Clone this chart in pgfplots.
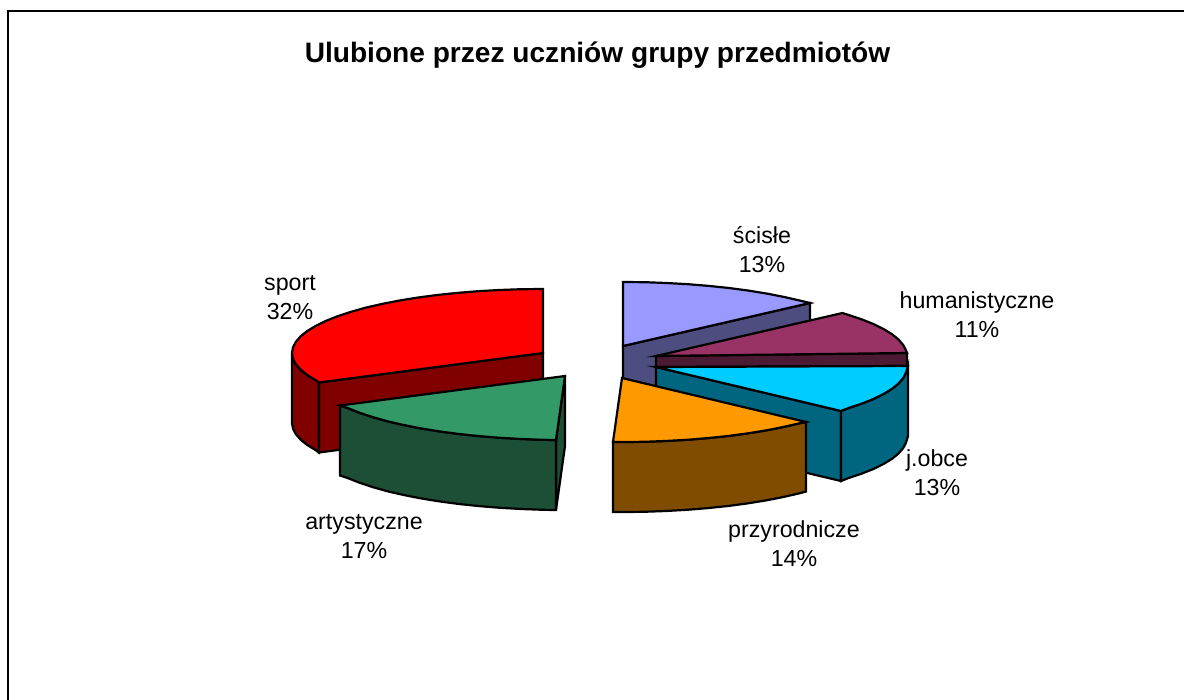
\documentclass[border=0pt]{standalone}
\usepackage{pgfplots}
\usepackage{fontspec}
\setmainfont{Liberation Sans}
\pgfplotsset{compat=1.18}
\tikzset{lab/.style={font=\fontsize{23.2bp}{29bp}\selectfont, align=center, anchor=center, text=black, inner sep=0pt}}
\definecolor{cSport}{HTML}{FF0000}\definecolor{sSport}{HTML}{800000}
\definecolor{cArt}{HTML}{339966}\definecolor{sArt}{HTML}{1C4F36}
\definecolor{cSc}{HTML}{9999FF}\definecolor{sSc}{HTML}{4D4D80}
\definecolor{cHum}{HTML}{993366}\definecolor{sHum}{HTML}{4D1A33}
\definecolor{cJo}{HTML}{00CCFF}\definecolor{sJo}{HTML}{006680}
\definecolor{cPrz}{HTML}{FF9900}\definecolor{sPrz}{HTML}{804D00}
\begin{document}
\begin{tikzpicture}
\useasboundingbox (0,0) rectangle (1184bp,700bp);
\begin{axis}[
  at={(0,0)}, anchor=south west,
  width=1184bp, height=700bp, scale only axis,
  xmin=0, xmax=1184, ymin=0, ymax=700, y dir=reverse,
  axis lines=none, ticks=none,
  every axis plot/.append style={draw=black, line width=2.2bp, no markers},
]
% frame
\addplot[fill=none, line width=1.6bp] coordinates {(8,700) (8,11) (1184,11)};
% sport
\addplot[fill=sSport] coordinates {(292,353) (293,358.6) (295.8,364.1) (300.6,369.6) (307.1,374.9) (315.5,380) (319,382.5) (319,452.5) (315.5,450) (307.1,444.9) (300.6,439.6) (295.8,434.1) (293,428.6) (292,423)} --cycle;
\addplot[fill=sSport] coordinates {(319,382.5) (543,353) (543,423) (319,452.5)} --cycle;
\addplot[fill=cSport] coordinates {(543,353) (543,289) (521.1,289.2) (499.4,290) (478,291.2) (457.2,292.9) (436.9,295) (417.5,297.6) (399,300.6) (381.7,304) (365.5,307.7) (350.7,311.9) (337.4,316.3) (325.6,321) (315.5,326) (307.1,331.1) (300.6,336.4) (295.8,341.9) (293,347.4) (292,353) (293,358.6) (295.8,364.1) (300.6,369.6) (307.1,374.9) (315.5,380) (319,382.5)} --cycle;
% artystyczne
\addplot[fill=sArt] coordinates {(565,376) (565,446) (556,510) (556,440)} --cycle;
\addplot[fill=sArt] coordinates {(556,440) (543.1,439.8) (521.4,439) (500,437.8) (479.2,436.1) (458.9,434) (439.5,431.4) (421,428.4) (403.7,425) (387.5,421.3) (372.7,417.1) (359.4,412.7) (347.6,408) (340,405.5) (340,475.5) (347.6,478) (359.4,482.7) (372.7,487.1) (387.5,491.3) (403.7,495) (421,498.4) (439.5,501.4) (458.9,504) (479.2,506.1) (500,507.8) (521.4,509) (543.1,509.8) (556,510)} --cycle;
\addplot[fill=cArt] coordinates {(565,376) (556,440) (543.1,439.8) (521.4,439) (500,437.8) (479.2,436.1) (458.9,434) (439.5,431.4) (421,428.4) (403.7,425) (387.5,421.3) (372.7,417.1) (359.4,412.7) (347.6,408) (340,405.5)} --cycle;
% scisle
\addplot[fill=sSc] coordinates {(623,346) (810,303) (810,373) (623,416)} --cycle;
\addplot[fill=cSc] coordinates {(623,346) (623,282) (644.9,282.2) (666.6,283) (688,284.2) (708.8,285.9) (729.1,288) (748.5,290.6) (767,293.6) (784.3,297) (800.5,300.7) (810,303)} --cycle;
% humanistyczne
\addplot[fill=sHum] coordinates {(656,356) (907,353) (907,366) (656,367)} --cycle;
\addplot[fill=cHum] coordinates {(656,356) (842.5,313) (848.3,314.9) (861.6,319.3) (873.4,324) (883.5,329) (891.9,334.1) (898.4,339.4) (903.2,344.9) (906,350.4) (907,353)} --cycle;
% j.obce
\addplot[fill=sJo] coordinates {(656,367) (841,411) (841,481) (656,437)} --cycle;
\addplot[fill=sJo] coordinates {(908,366) (906,372.6) (903.2,378.1) (898.4,383.6) (891.9,388.9) (883.5,394) (873.4,399) (861.6,403.7) (848.3,408.1) (841,411) (841,481) (848.3,478.1) (861.6,473.7) (873.4,469) (883.5,464) (891.9,458.9) (898.4,453.6) (903.2,448.1) (906,442.6) (908,436)} --cycle;
\addplot[fill=cJo] coordinates {(656,367) (908,366) (906,372.6) (903.2,378.1) (898.4,383.6) (891.9,388.9) (883.5,394) (873.4,399) (861.6,403.7) (848.3,408.1) (841,411)} --cycle;
% przyrodnicze
\addplot[fill=sPrz] coordinates {(613,442) (622,442) (643.9,441.8) (665.6,441) (687,439.8) (707.8,438.1) (728.1,436) (747.5,433.4) (766,430.4) (783.3,427) (799.5,423.3) (806,422) (806,491.5) (799.5,493.3) (783.3,497) (766,500.4) (747.5,503.4) (728.1,506) (707.8,508.1) (687,509.8) (665.6,511) (643.9,511.8) (622,512) (613,512)} --cycle;
\addplot[fill=cPrz] coordinates {(622,378) (613,442) (622,442) (643.9,441.8) (665.6,441) (687,439.8) (707.8,438.1) (728.1,436) (747.5,433.4) (766,430.4) (783.3,427) (799.5,423.3) (806,422)} --cycle;
% text
\node[lab, font=\fontsize{28.1bp}{30bp}\selectfont\bfseries] at (axis cs:597.5,55) {Ulubione przez uczniów grupy przedmiotów};
\node[lab] at (axis cs:762,250) {ścisłe\\13\%};
\node[lab] at (axis cs:977,315) {humanistyczne\\11\%};
\node[lab] at (axis cs:937,473) {j.obce\\13\%};
\node[lab] at (axis cs:794,544) {przyrodnicze\\14\%};
\node[lab] at (axis cs:364,537) {artystyczne\\17\%};
\node[lab] at (axis cs:290,298) {sport\\32\%};
\end{axis}
\end{tikzpicture}
\end{document}
